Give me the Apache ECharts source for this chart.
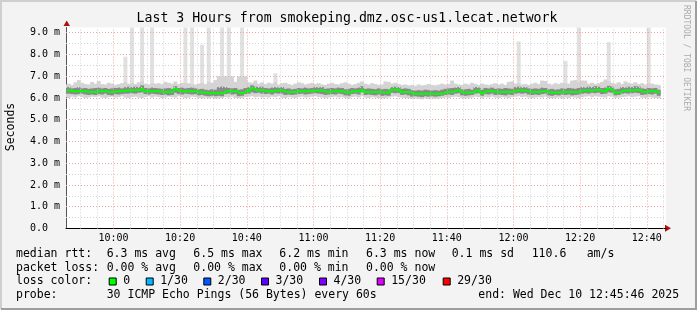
<!DOCTYPE html>
<html><head><meta charset="utf-8">
<script src="https://cdn.jsdelivr.net/npm/echarts@6/dist/echarts.min.js"></script>
<style>html,body{margin:0;padding:0;background:#f3f3f3}#c{width:697px;height:310px}</style>
</head><body><div id="c"></div>
<script>
// ---------- data ----------
const chartTitle = 'Last 3 Hours from smokeping.dmz.osc-us1.lecat.network';
const yAxisName = 'Seconds';
const watermark = 'RRDTOOL / TOBI OETIKER';
const startMinute = 9 * 60 + 45 + 46 / 60;   // 09:45:46
const endMinute = 12 * 60 + 45 + 46 / 60;    // 12:45:46
const firstSampleMinute = 586;               // first 60 s sample ends 09:46
const yMax = 9.24;

// median rtt per sample (ms)
const median = [
 6.34,6.34,6.31,6.31,6.31,6.31,6.31,6.28,6.28,6.28,6.31,6.31,6.31,6.27,6.27,6.31,6.31,6.31,6.34,6.34,
 6.36,6.36,6.36,6.43,6.31,6.31,6.31,6.31,6.31,6.28,6.28,6.28,6.28,6.40,6.31,6.31,6.31,6.31,6.31,6.31,
 6.25,6.25,6.25,6.22,6.22,6.22,6.22,6.22,6.31,6.31,6.31,6.31,6.22,6.22,6.31,6.31,6.45,6.36,6.36,6.36,
 6.31,6.31,6.31,6.34,6.34,6.34,6.28,6.28,6.28,6.28,6.31,6.31,6.31,6.31,6.31,6.34,6.34,6.34,6.28,6.28,
 6.31,6.31,6.31,6.31,6.25,6.25,6.31,6.31,6.31,6.40,6.28,6.28,6.28,6.28,6.28,6.25,6.25,6.25,6.38,6.38,
 6.38,6.28,6.28,6.28,6.19,6.19,6.19,6.19,6.19,6.19,6.19,6.19,6.19,6.19,6.28,6.28,6.28,6.34,6.34,6.25,
 6.25,6.25,6.25,6.34,6.34,6.22,6.31,6.31,6.31,6.28,6.28,6.28,6.28,6.28,6.28,6.34,6.34,6.34,6.34,6.28,
 6.28,6.28,6.28,6.31,6.31,6.25,6.25,6.25,6.25,6.28,6.28,6.28,6.28,6.28,6.28,6.34,6.34,6.34,6.34,6.37,
 6.37,6.31,6.31,6.42,6.37,6.25,6.25,6.34,6.34,6.34,6.34,6.37,6.37,6.28,6.28,6.31,6.31,6.31,6.22
];
// outer (light) smoke: lowest and highest pings
const smokeLo = [
 6.04,6.0,6.06,6.02,6.08,6.04,6.0,6.02,6.06,6.04,6.08,6.02,6.0,6.04,6.06,6.02,6.04,6.08,6.02,6.0,
 6.04,6.06,6.02,6.0,6.04,6.08,6.02,6.06,6.04,6.0,6.02,6.06,6.04,6.02,6.08,6.04,6.0,6.02,6.06,6.04,
 6.0,5.98,6.02,5.98,6.0,5.96,5.98,6.0,6.04,6.02,6.06,6.0,5.98,6.0,6.04,6.06,6.08,6.04,6.06,6.02,
 6.04,6.02,6.06,6.04,6.08,6.02,6.0,6.04,6.02,6.0,6.04,6.06,6.02,6.04,6.06,6.08,6.04,6.02,6.0,6.02,
 6.04,6.06,6.02,6.04,6.0,5.98,6.04,6.06,6.02,6.08,6.02,6.0,6.04,6.02,6.0,5.98,6.0,6.02,6.06,6.08,
 6.04,6.02,6.0,5.98,5.96,5.98,5.96,5.94,5.98,5.96,5.98,5.96,5.98,6.0,6.02,6.0,6.04,6.06,6.04,6.0,
 5.98,6.0,6.02,6.06,6.04,5.98,6.04,6.02,6.06,6.02,6.0,6.04,6.02,6.0,6.04,6.06,6.08,6.04,6.06,6.02,
 6.0,6.02,6.04,6.02,6.06,6.0,5.98,6.0,6.02,5.98,6.02,6.0,6.04,6.02,6.0,6.04,6.06,6.08,6.04,6.08,
 6.06,6.04,6.02,6.08,6.06,6.0,6.02,6.04,6.06,6.08,6.04,6.06,6.08,6.02,6.0,6.04,6.02,6.0,5.98
];
const smokeHi = [
 6.62,6.66,6.6,6.72,6.82,6.7,6.64,6.62,6.74,6.66,6.78,6.64,6.62,6.7,6.66,6.6,6.64,6.68,6.74,6.66,
 6.7,6.64,6.72,6.78,6.66,6.62,6.7,6.66,6.68,6.64,6.74,6.7,6.66,6.76,6.64,6.7,6.72,6.68,6.66,6.62,
 6.66,6.72,6.64,6.74,6.7,6.82,7.0,7.0,7.0,7.0,7.0,6.74,7.0,7.0,7.0,6.72,6.7,6.8,6.66,6.72,
 6.64,6.7,6.66,6.74,6.62,6.68,6.7,6.64,6.6,6.66,6.72,6.68,6.62,6.66,6.7,6.64,6.68,6.62,6.6,6.66,
 6.7,6.64,6.62,6.68,6.72,6.66,6.6,6.64,6.7,6.76,6.66,6.62,6.68,6.64,6.6,6.62,6.76,6.74,6.66,6.7,
 6.64,6.6,6.62,6.58,6.6,6.56,6.62,6.58,6.6,6.64,6.6,6.58,6.62,6.66,6.62,6.64,6.8,6.66,6.62,6.6,
 6.66,6.62,6.7,6.64,6.6,6.66,6.62,6.6,6.64,6.68,6.62,6.66,6.6,6.74,6.76,6.66,6.7,6.62,6.64,6.6,
 6.66,6.7,6.64,6.8,6.78,6.66,6.62,6.68,6.64,6.7,6.72,6.66,6.8,6.82,6.74,6.8,6.8,6.66,6.7,6.64,
 6.68,6.74,6.85,6.8,6.7,6.66,6.72,6.64,6.76,6.7,6.66,6.72,6.64,6.68,6.62,6.7,6.66,6.62,6.6
];
// inner (dark) smoke
const coreLo = [
 6.2,6.2,6.18,6.16,6.18,6.2,6.16,6.14,6.16,6.14,6.18,6.16,6.2,6.14,6.12,6.18,6.16,6.18,6.2,6.2,
 6.22,6.2,6.24,6.26,6.18,6.16,6.2,6.18,6.16,6.14,6.16,6.12,6.14,6.24,6.18,6.16,6.2,6.18,6.16,6.18,
 6.12,6.14,6.1,6.08,6.1,6.08,6.1,6.08,6.18,6.2,6.16,6.18,6.08,6.1,6.18,6.2,6.26,6.22,6.24,6.2,
 6.18,6.2,6.16,6.22,6.2,6.2,6.14,6.16,6.14,6.16,6.18,6.2,6.16,6.18,6.2,6.22,6.2,6.18,6.14,6.16,
 6.18,6.16,6.2,6.18,6.12,6.1,6.18,6.2,6.16,6.26,6.14,6.16,6.14,6.12,6.16,6.1,6.12,6.1,6.24,6.22,
 6.22,6.14,6.16,6.12,6.06,6.08,6.06,6.04,6.08,6.06,6.08,6.06,6.08,6.1,6.14,6.16,6.14,6.2,6.22,6.12,
 6.1,6.12,6.14,6.2,6.22,6.1,6.18,6.16,6.2,6.14,6.16,6.14,6.12,6.16,6.14,6.2,6.22,6.2,6.22,6.16,
 6.14,6.16,6.14,6.18,6.2,6.12,6.1,6.14,6.12,6.16,6.14,6.16,6.12,6.14,6.16,6.2,6.22,6.2,6.24,6.22,
 6.24,6.18,6.2,6.26,6.24,6.12,6.14,6.2,6.22,6.2,6.22,6.24,6.22,6.14,6.16,6.18,6.16,6.2,6.1
];
const coreHi = [
 6.48,6.5,6.44,6.46,6.5,6.44,6.46,6.42,6.44,6.46,6.48,6.44,6.46,6.42,6.44,6.46,6.48,6.44,6.5,6.52,
 6.5,6.52,6.5,6.58,6.46,6.44,6.48,6.46,6.44,6.42,6.44,6.46,6.42,6.54,6.46,6.48,6.44,6.46,6.48,6.44,
 6.4,6.42,6.38,6.36,6.4,6.38,6.5,6.52,6.5,6.46,6.44,6.46,6.38,6.4,6.46,6.5,6.58,6.52,6.5,6.52,
 6.46,6.44,6.48,6.5,6.48,6.5,6.42,6.44,6.4,6.42,6.46,6.44,6.48,6.44,6.46,6.5,6.48,6.5,6.42,6.44,
 6.46,6.44,6.48,6.46,6.4,6.42,6.46,6.44,6.48,6.54,6.42,6.44,6.42,6.4,6.44,6.4,6.42,6.4,6.5,6.52,
 6.5,6.42,6.44,6.42,6.36,6.34,6.36,6.34,6.38,6.36,6.34,6.36,6.34,6.38,6.42,6.44,6.46,6.48,6.5,6.4,
 6.4,6.42,6.38,6.5,6.48,6.38,6.46,6.44,6.48,6.42,6.44,6.42,6.46,6.44,6.42,6.5,6.52,6.48,6.5,6.44,
 6.42,6.44,6.42,6.48,6.46,6.4,6.42,6.38,6.4,6.44,6.42,6.46,6.44,6.42,6.46,6.5,6.48,6.52,6.5,6.54,
 6.52,6.46,6.48,6.56,6.52,6.4,6.42,6.5,6.48,6.52,6.5,6.54,6.52,6.44,6.42,6.46,6.44,6.46,6.38
];
// slow single pings (sample index, max rtt ms)
const spikeSamples = [18,20,23,26,36,38,41,43,47,49,53,63,136,150,154,163,175];
const spikeTops   = [7.9,9.5,9.5,9.5,9.5,9.5,8.45,9.5,9.5,9.5,9.5,7.13,8.6,7.7,9.5,8.57,9.5];

// legend texts
const statsRtt  = ['6.3 ms avg','6.5 ms max','6.2 ms min','6.3 ms now','0.1 ms sd','110.6','am/s'];
const statsLoss = ['0.00 % avg','0.00 % max','0.00 % min','0.00 % now'];
const lossLabels = ['0','1/30','2/30','3/30','4/30','15/30','29/30'];
const lossColors = ['#00ff00','#00b8ff','#0059ff','#5e00ff','#7e00ff','#dd00ff','#ff0000'];
const probeText = '30 ICMP Echo Pings (56 Bytes) every 60s';
const endText = 'end: Wed Dec 10 12:45:46 2025';

// ---------- layout ----------
const MONO = '"DejaVu Sans Mono", monospace';
const G = {left: 66, top: 27.5, width: 600, height: 201};
const sampleTimes = median.map((_, i) => firstSampleMinute + i);

function pad(n){ return (n < 10 ? '0' : '') + n; }
function hhmm(m){ m = Math.round(m); return pad(Math.floor(m / 60)) + ':' + pad(m % 60); }

function bandRender(params, api) {
  const t = api.value(0);
  const a = api.coord([t - 1, api.value(1)]);
  const b = api.coord([t, api.value(2)]);
  const cs = params.coordSys;
  const r = echarts.graphic.clipRectByRect(
    {x: a[0], y: b[1], width: b[0] - a[0] + 0.6, height: a[1] - b[1]},
    {x: cs.x, y: cs.y, width: cs.width, height: cs.height});
  return r && {type: 'rect', shape: r, style: {fill: api.visual('color')}};
}

const gridLinesMinorX = [], gridLinesMajorX = [];
for (let m = Math.ceil(startMinute / 5) * 5; m <= endMinute; m += 5) {
  (m % 20 === 0 ? gridLinesMajorX : gridLinesMinorX).push({xAxis: m});
}
const gridLinesMinorY = [], gridLinesMajorY = [];
for (let k = 1; k <= 18; k++) {
  const v = k / 2;
  if (v > yMax) break;
  (k % 2 === 0 ? gridLinesMajorY : gridLinesMinorY).push({yAxis: v});
}

const graphics = [];
function txt(x, y, s, opt) {
  graphics.push(Object.assign({type: 'text', x: x, y: y, silent: true,
    style: Object.assign({text: s, font: '11.5px ' + MONO, fill: '#000',
      align: 'left', verticalAlign: 'middle', textAlign: 'left', textVerticalAlign: 'middle'}, (opt && opt.style) || {})},
    (opt && opt.el) || {}));
}
// frame
graphics.push({type: 'polyline', silent: true, shape: {points: [[1, 309], [1, 1], [696, 1]]}, style: {stroke: '#cfcfcf', lineWidth: 2, fill: null}});
graphics.push({type: 'polyline', silent: true, shape: {points: [[1, 309], [696, 309], [696, 1]]}, style: {stroke: '#9e9e9e', lineWidth: 2, fill: null}});
// title
txt(347, 19, chartTitle, {style: {font: '13.2px ' + MONO, align: 'center', textAlign: 'center'}});
// y name
txt(11, 127, yAxisName, {el: {rotation: Math.PI / 2}, style: {font: '11.5px ' + MONO, align: 'center', textAlign: 'center'}});
// watermark
txt(686, 5, watermark, {el: {rotation: -Math.PI / 2}, style: {font: '8px ' + MONO, fill: '#ababab'}});
// axis arrows
graphics.push({type: 'polygon', silent: true, shape: {points: [[63.5, 26], [70, 26], [66.7, 20.5]]}, style: {fill: '#b01010'}});
graphics.push({type: 'polygon', silent: true, shape: {points: [[665, 224.8], [665, 231.8], [671, 228.3]]}, style: {fill: '#b01010'}});
// legend rows
const rowY = [254.5, 268, 281.5, 295];
const colX = [106.7, 193.3, 279.3, 366, 451.7, 531.7, 586.7];
txt(16, rowY[0], 'median rtt:');
statsRtt.forEach((s, i) => txt(colX[i], rowY[0], s));
txt(16, rowY[1], 'packet loss:');
statsLoss.forEach((s, i) => txt(colX[i], rowY[1], s));
txt(16, rowY[2], 'loss color:');
const boxX = [108.7, 145.7, 203.3, 261, 319, 376.7, 442.7];
lossLabels.forEach((s, i) => {
  graphics.push({type: 'rect', silent: true, shape: {x: boxX[i] + 0.5, y: rowY[2] - 3.5, width: 7, height: 7},
    style: {fill: lossColors[i], stroke: '#000', lineWidth: 1}});
  txt(boxX[i] + 14.5, rowY[2], s);
});
txt(16, rowY[3], 'probe:');
txt(106.7, rowY[3], probeText);
txt(478.3, rowY[3], endText);

const chart = echarts.init(document.getElementById('c'), null, {renderer: 'canvas'});
chart.setOption({
  animation: false,
  backgroundColor: '#f3f3f3',
  grid: Object.assign({show: true, backgroundColor: '#ffffff', borderWidth: 0, containLabel: false}, G),
  xAxis: {
    type: 'value', min: startMinute, max: endMinute, splitNumber: 9, minInterval: 20, maxInterval: 20,
    axisLine: {show: true, onZero: false, lineStyle: {color: '#000', width: 1}},
    axisTick: {show: false},
    splitLine: {show: false},
    axisLabel: {show: true, showMinLabel: false, showMaxLabel: false, margin: 5,
      fontFamily: MONO, fontSize: 10, color: '#000', formatter: v => hhmm(v)}
  },
  yAxis: {
    type: 'value', min: 0, max: yMax, interval: 1,
    axisLine: {show: true, lineStyle: {color: '#555', width: 1}},
    axisTick: {show: false},
    splitLine: {show: false},
    axisLabel: {show: true, showMaxLabel: false, margin: 6, fontFamily: MONO, fontSize: 10, color: '#000',
      formatter: v => v === 0 ? '0.0  ' : v.toFixed(1) + ' m'}
  },
  graphic: {elements: graphics},
  series: [
    {type: 'custom', name: 'max', z: 1, renderItem: bandRender, itemStyle: {color: '#e0e0e0'},
     encode: {x: 0, y: [1, 2]},
     data: spikeSamples.map((s, k) => [firstSampleMinute + s, smokeHi[s], spikeTops[k]])},
    {type: 'custom', name: 'smoke', z: 2, renderItem: bandRender, itemStyle: {color: '#d4d4d4'},
     encode: {x: 0, y: [1, 2]},
     data: sampleTimes.map((t, i) => [t, smokeLo[i], smokeHi[i]])},
    {type: 'custom', name: 'core', z: 3, renderItem: bandRender, itemStyle: {color: '#8a8a8a'},
     encode: {x: 0, y: [1, 2]},
     data: sampleTimes.map((t, i) => [t, coreLo[i], coreHi[i]])},
    {type: 'line', name: 'gridMinor', z: 4, data: [], silent: true,
     markLine: {silent: true, symbol: ['none', 'none'], label: {show: false}, animation: false,
       lineStyle: {color: '#d2d2d2', width: 1, type: [1, 2]},
       emphasis: {disabled: true},
       data: gridLinesMinorX.concat(gridLinesMinorY)}},
    {type: 'line', name: 'gridMajor', z: 5, data: [], silent: true,
     markLine: {silent: true, symbol: ['none', 'none'], label: {show: false}, animation: false,
       lineStyle: {color: '#f5a3a3', width: 1, type: [1, 2]},
       emphasis: {disabled: true},
       data: gridLinesMajorX.concat(gridLinesMajorY)}},
    {type: 'line', name: 'median', z: 6, step: 'start', showSymbol: false, symbol: 'none',
     lineStyle: {color: '#00ff00', width: 2}, silent: true,
     data: sampleTimes.map((t, i) => [t, median[i]])}
  ]
});
</script>
</body></html>
